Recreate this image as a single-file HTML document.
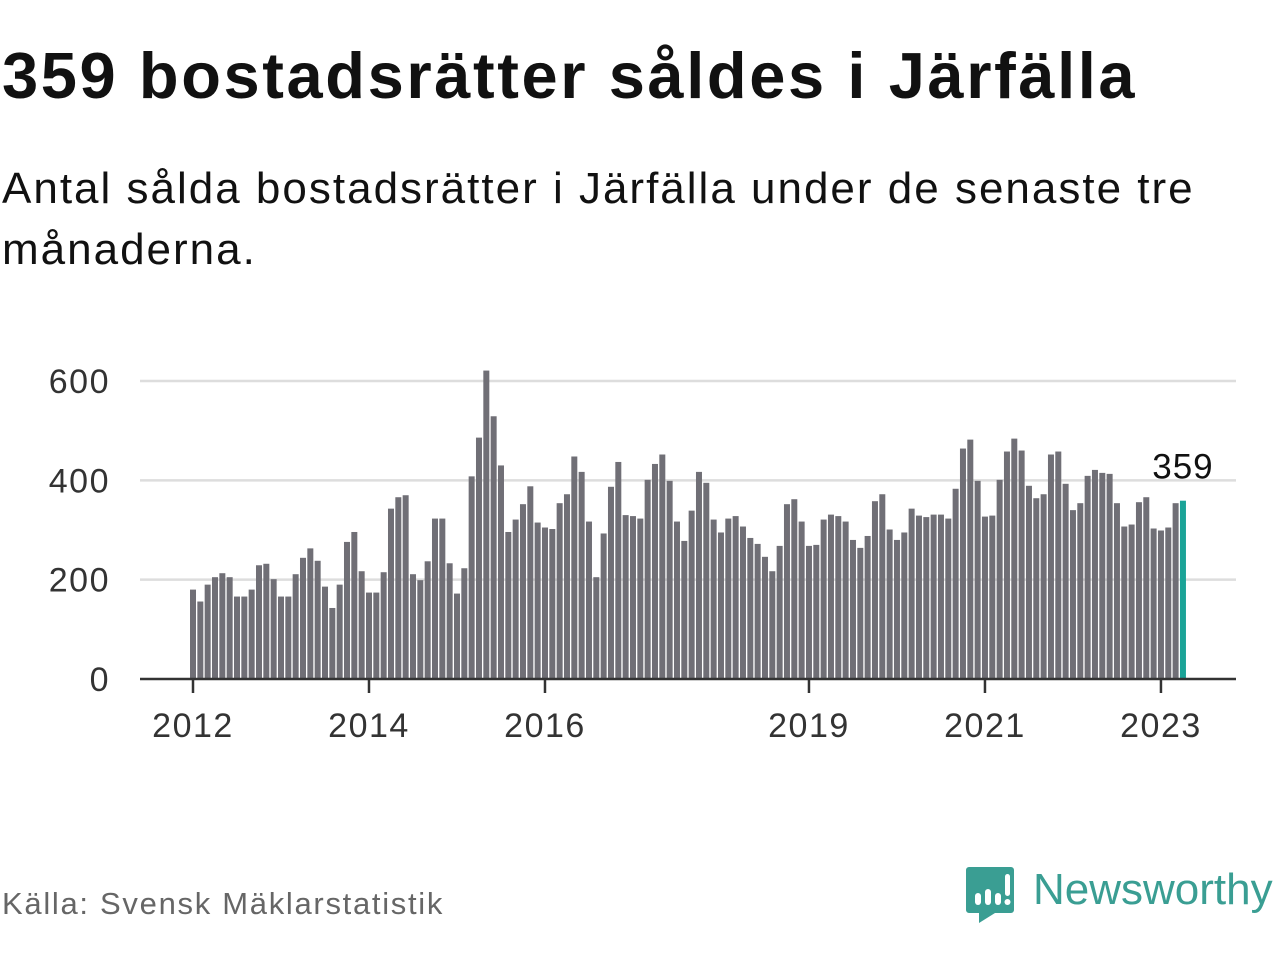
<!DOCTYPE html>
<html><head><meta charset="utf-8">
<style>
body{margin:0;width:1280px;height:960px;background:#fff;font-family:"Liberation Sans",sans-serif;overflow:hidden;position:relative}
#title{position:absolute;left:2px;top:38px;font-size:65px;font-weight:bold;color:#111;margin:0;letter-spacing:2.6px}
#sub{position:absolute;left:2px;top:158px;font-size:44px;color:#111;line-height:61px;width:1270px;letter-spacing:2px}
#src{position:absolute;left:2px;top:886px;font-size:31px;color:#666;letter-spacing:1.7px}
svg{position:absolute;left:0;top:0}
</style></head><body>
<h1 id="title">359 bostadsrätter såldes i Järfälla</h1>
<div id="sub">Antal sålda bostadsrätter i Järfälla under de senaste tre<br>månaderna.</div>
<div id="src">Källa: Svensk Mäklarstatistik</div>
<svg id="chart" width="1280" height="960"></svg>
<div style="position:absolute;left:965px;top:865px;width:310px;height:62px">
<svg width="50" height="60" style="left:0;top:0">
<path d="M4 2h42a3 3 0 0 1 3 3v40a3 3 0 0 1-3 3H30l-16 10v-10H4a3 3 0 0 1-3-3V5a3 3 0 0 1 3-3z" fill="#3a9e93"/>
<rect x="10" y="28" width="6" height="12" rx="3" fill="#fff"/><rect x="20" y="24" width="6" height="16" rx="3" fill="#fff"/><rect x="30" y="28" width="6" height="12" rx="3" fill="#fff"/><rect x="40" y="9" width="5" height="22" rx="2.5" fill="#fff"/><circle cx="42.5" cy="37" r="3" fill="#fff"/>
</svg>
<div style="position:absolute;left:68px;top:0;font-size:44px;color:#3a9e93;font-weight:500">Newsworthy</div>
</div>
<script>
const values=[180,156,190,205,213,205,166,166,180,229,232,201,166,166,211,244,263,238,186,143,190,276,296,217,174,174,215,343,366,370,211,199,237,323,323,233,172,223,408,486,621,529,430,296,321,352,388,315,305,302,354,372,448,417,317,205,293,387,437,330,328,323,401,433,452,399,317,278,339,417,395,321,295,323,328,307,284,272,246,217,268,352,362,317,268,270,321,331,328,317,280,264,288,358,372,301,280,295,343,329,326,331,331,323,383,464,482,399,327,329,401,458,484,460,389,364,372,452,458,393,340,354,409,421,415,413,354,307,311,356,366,303,299,305,354,359];
const yTicks=[0,200,400,600];
const xTickLabels=["2012","2014","2016","2019","2021","2023"];
const xTickIndex=[0,24,48,84,108,132];
const NS="http://www.w3.org/2000/svg";
const svg=document.getElementById('chart');
const y0=679,k=298/600,x0=193,step=7.333;
const yS=v=>y0-v*k, xS=i=>x0+i*step;
function mk(t,a){const e=document.createElementNS(NS,t);for(const n in a)e.setAttribute(n,a[n]);svg.appendChild(e);return e;}
yTicks.forEach(v=>{
 if(v>0){const g=mk('line',{x1:140,x2:1236,y1:yS(v),y2:yS(v),stroke:'#ddd','stroke-width':2.5});
 
 }
 const t=mk('text',{x:110,y:yS(v)+12,'text-anchor':'end','font-size':34,'letter-spacing':1.5,fill:'#333','font-family':'Liberation Sans, sans-serif'});
 t.textContent=v;
 
 
});
values.forEach((v,i)=>{
 const last=i===values.length-1;
 const r=mk('rect',{x:xS(i)-3,y:yS(v),width:6,height:v*k,fill:last?'#1aa397':'#706f76'});
 
 
});
const ax=mk('line',{x1:140,x2:1236,y1:y0,y2:y0,stroke:'#333','stroke-width':2.5});


xTickIndex.forEach((idx,j)=>{
 const l=mk('line',{x1:xS(idx),x2:xS(idx),y1:y0,y2:y0+14,stroke:'#333','stroke-width':2.5});
 
 
 const t=mk('text',{x:xS(idx),y:737,'text-anchor':'middle','font-size':34,'letter-spacing':1.5,fill:'#333','font-family':'Liberation Sans, sans-serif'});
 t.textContent=xTickLabels[j];
 
 
});
const li=values.length-1;
const lab=mk('text',{x:xS(li),y:yS(values[li])-22,'text-anchor':'middle','font-size':35,'letter-spacing':1,fill:'#111','font-family':'Liberation Sans, sans-serif'});
lab.textContent=values[li];


</script>
</body></html>
